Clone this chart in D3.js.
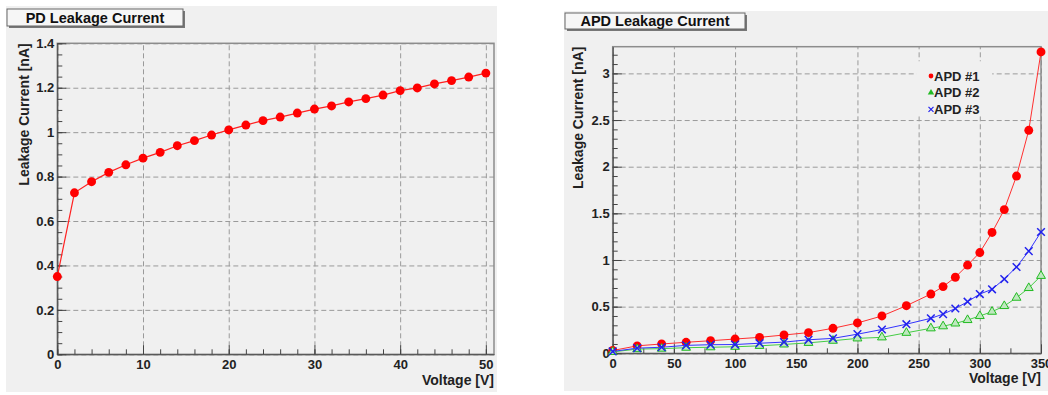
<!DOCTYPE html>
<html>
<head>
<meta charset="utf-8">
<script src="https://cdn.jsdelivr.net/npm/d3@7"></script>
<style>
  body { margin: 0; background: #fff; }
  svg { display: block; font-family: "Liberation Sans", Arial, sans-serif; }
  .tick text { font-size: 13px; font-weight: bold; fill: #222; }
  .grid line { stroke: #9a9a9a; stroke-dasharray: 5,3; }
  .grid path, .minor path { display: none; }
  .axis path, .axis line, .minor line { stroke: #444; }
</style>
</head>
<body>
<div id="chart"></div>
<script>
// PD leakage current
const pdVoltage = [0, 2, 4, 6, 8, 10, 12, 14, 16, 18, 20, 22, 24, 26, 28, 30, 32, 34, 36, 38, 40, 42, 44, 46, 48, 50];
const pdCurrent = [0.35, 0.727, 0.777, 0.819, 0.853, 0.883, 0.909, 0.939, 0.962, 0.987, 1.01, 1.032, 1.052, 1.068,
                   1.086, 1.104, 1.118, 1.136, 1.151, 1.167, 1.187, 1.199, 1.217, 1.232, 1.248, 1.266];
const pdYTicks = [0, 0.2, 0.4, 0.6, 0.8, 1, 1.2, 1.4];
const pdXTicks = [0, 10, 20, 30, 40, 50];

// APD leakage current
const apdVoltage = [0, 20, 40, 60, 80, 100, 120, 140, 160, 180, 200, 220, 240, 260, 270, 280, 290, 300, 310, 320, 330, 340, 350];
const apd1 = [0.03, 0.08, 0.10, 0.118, 0.135, 0.153, 0.171, 0.196, 0.222, 0.268, 0.325, 0.40, 0.51,
              0.635, 0.715, 0.815, 0.945, 1.08, 1.295, 1.54, 1.90, 2.39, 3.23];
const apd2 = [0.015, 0.045, 0.05, 0.06, 0.065, 0.07, 0.08, 0.095, 0.112, 0.135, 0.16, 0.171, 0.22,
              0.268, 0.29, 0.32, 0.357, 0.40, 0.446, 0.507, 0.596, 0.70, 0.83];
const apd3 = [0.02, 0.055, 0.065, 0.085, 0.092, 0.094, 0.108, 0.12, 0.145, 0.16, 0.205, 0.255, 0.312,
              0.375, 0.42, 0.48, 0.553, 0.635, 0.686, 0.796, 0.925, 1.095, 1.30];
const apdNames = ["APD #1", "APD #2", "APD #3"];
const apdYTicks = [0, 0.5, 1, 1.5, 2, 2.5, 3];
const apdXTicks = [0, 50, 100, 150, 200, 250, 300, 350];

const W = 1048, H = 395;
const svg = d3.select("#chart").append("svg")
    .attr("width", W).attr("height", H);

const fmt = d => String(+d.toFixed(2));

function drawPanel(o) {
  // pad background
  svg.append("rect")
    .attr("x", o.pad[0]).attr("y", o.pad[1])
    .attr("width", o.pad[2]).attr("height", o.pad[3])
    .attr("fill", "#f0f0f0");

  const w = o.right - o.left, h = o.bottom - o.top;
  const g = svg.append("g").attr("transform", "translate(" + o.left + "," + o.top + ")");

  const x = d3.scaleLinear().domain(o.xDomain).range([0, w]);
  const y = d3.scaleLinear().domain(o.yDomain).range([h, 0]);

  // grid
  g.append("g").attr("class", "grid")
    .attr("transform", "translate(0," + h + ")")
    .call(d3.axisBottom(x).tickValues(o.xTicks).tickSize(-h).tickFormat(""));
  g.append("g").attr("class", "grid")
    .call(d3.axisLeft(y).tickValues(o.yTicks).tickSize(-w).tickFormat(""));

  // frame
  g.append("rect").attr("width", w).attr("height", h)
    .attr("fill", "none").attr("stroke", "#8c8c8c").attr("stroke-width", 1.5);

  // minor ticks
  g.append("g").attr("class", "minor")
    .attr("transform", "translate(0," + h + ")")
    .call(d3.axisBottom(x).tickValues(o.xMinor).tickSize(-5).tickFormat(""));
  g.append("g").attr("class", "minor")
    .call(d3.axisLeft(y).tickValues(o.yMinor).tickSize(-5).tickFormat(""));

  // major axes
  g.append("g").attr("class", "axis")
    .attr("transform", "translate(0," + h + ")")
    .call(d3.axisBottom(x).tickValues(o.xTicks).tickSize(-9).tickPadding(5).tickSizeOuter(0).tickFormat(fmt));
  g.append("g").attr("class", "axis")
    .call(d3.axisLeft(y).tickValues(o.yTicks).tickSize(-9).tickPadding(3).tickSizeOuter(0).tickFormat(fmt));

  // axis titles
  g.append("text")
    .attr("x", w).attr("y", h + o.xTitleDy)
    .attr("text-anchor", "end")
    .style("font-size", "14px").style("font-weight", "bold").attr("fill", "#222")
    .text("Voltage [V]");
  g.append("text")
    .attr("transform", "translate(" + o.yTitleDx + ",0) rotate(-90)")
    .attr("text-anchor", "end")
    .style("font-size", "14px").style("font-weight", "bold").attr("fill", "#222")
    .text("Leakage Current [nA]");

  // title box
  const tb = o.titleBox;
  svg.append("rect").attr("x", tb[0] + 2).attr("y", tb[1] + 2)
    .attr("width", tb[2]).attr("height", tb[3]).attr("fill", "#777");
  svg.append("rect").attr("x", tb[0]).attr("y", tb[1])
    .attr("width", tb[2]).attr("height", tb[3])
    .attr("fill", "#f6f6f6").attr("stroke", "#666").attr("stroke-width", 1);
  svg.append("text")
    .attr("x", tb[0] + tb[2] / 2).attr("y", tb[1] + tb[3] / 2 + 5)
    .attr("text-anchor", "middle")
    .style("font-size", "14.5px").style("font-weight", "bold").attr("fill", "#111")
    .text(o.title);

  return { g: g, x: x, y: y };
}

const marker = {
  circle: d3.symbol().type(d3.symbolCircle).size(62),
  triangle: d3.symbol().type(d3.symbolTriangle).size(34),
  cross: d3.symbol().type(d3.symbolTimes).size(40)
};

// left panel
const pd = drawPanel({
  pad: [6, 6, 491, 386],
  left: 57.3, right: 494, top: 43.3, bottom: 354.3,
  xDomain: [0, 50.95], yDomain: [0, 1.4],
  xTicks: pdXTicks, yTicks: pdYTicks,
  xMinor: d3.range(0, 51, 2), yMinor: d3.range(0, 1.41, 0.05),
  xTitleDy: 31, yTitleDx: -28,
  titleBox: [7, 9, 176, 17], title: "PD Leakage Current"
});

const pdLine = d3.line().x((d, i) => pd.x(pdVoltage[i])).y(d => pd.y(d));
pd.g.append("path").datum(pdCurrent)
  .attr("d", pdLine).attr("fill", "none").attr("stroke", "#ff2020").attr("stroke-width", 1.2);
pd.g.selectAll("path.pt").data(pdCurrent).enter().append("path")
  .attr("class", "pt")
  .attr("transform", (d, i) => "translate(" + pd.x(pdVoltage[i]) + "," + pd.y(d) + ")")
  .attr("d", marker.circle).attr("fill", "#ff0000");

// right panel
const apd = drawPanel({
  pad: [564, 11, 484, 380],
  left: 612.7, right: 1041, top: 46.7, bottom: 353.3,
  xDomain: [0, 350], yDomain: [0, 3.286],
  xTicks: apdXTicks, yTicks: apdYTicks,
  xMinor: d3.range(0, 351, 25), yMinor: d3.range(0, 3.25, 0.1),
  xTitleDy: 30, yTitleDx: -30,
  titleBox: [565, 13, 180, 16], title: "APD Leakage Current"
});

const apdSeries = [
  { name: apdNames[0], values: apd1, color: "#ff0000", line: "#ff3030", shape: "circle" },
  { name: apdNames[1], values: apd2, color: "#22bb22", line: "#44cc44", shape: "triangle" },
  { name: apdNames[2], values: apd3, color: "#2222ee", line: "#3333ff", shape: "cross" }
];

const apdLine = d3.line().x((d, i) => apd.x(apdVoltage[i])).y(d => apd.y(d));

// legend background hides grid
apd.g.append("rect")
  .attr("x", apd.x(248) ).attr("y", apd.y(3.13))
  .attr("width", 76).attr("height", 55).attr("fill", "#f0f0f0");

apdSeries.forEach(s => {
  apd.g.append("path").datum(s.values)
    .attr("d", apdLine).attr("fill", "none").attr("stroke", s.line).attr("stroke-width", 1);
  const pts = apd.g.selectAll("path.pt-" + s.shape).data(s.values).enter().append("path")
    .attr("class", "pt-" + s.shape)
    .attr("transform", (d, i) => "translate(" + apd.x(apdVoltage[i]) + "," + apd.y(d) + ")")
    .attr("d", marker[s.shape]);
  if (s.shape === "circle") pts.attr("fill", s.color);
  else if (s.shape === "triangle") pts.attr("fill", "#bfe8bf").attr("stroke", s.color).attr("stroke-width", 1);
  else pts.attr("fill", "none").attr("stroke", s.color).attr("stroke-width", 1.5);
});

// legend
const leg = svg.append("g").attr("transform", "translate(931,76)");
apdSeries.forEach((s, i) => {
  const row = leg.append("g").attr("transform", "translate(0," + (i * 16.7) + ")");
  const m = row.append("path")
    .attr("d", d3.symbol().type(s.shape === "circle" ? d3.symbolCircle : s.shape === "triangle" ? d3.symbolTriangle : d3.symbolTimes).size(18));
  if (s.shape === "cross") m.attr("fill", "none").attr("stroke", s.color).attr("stroke-width", 1.2);
  else m.attr("fill", s.color);
  row.append("text").attr("x", 3).attr("y", 4.5)
    .style("font-size", "13px").style("font-weight", "bold").attr("fill", "#222")
    .text(s.name);
});
</script>
</body>
</html>
